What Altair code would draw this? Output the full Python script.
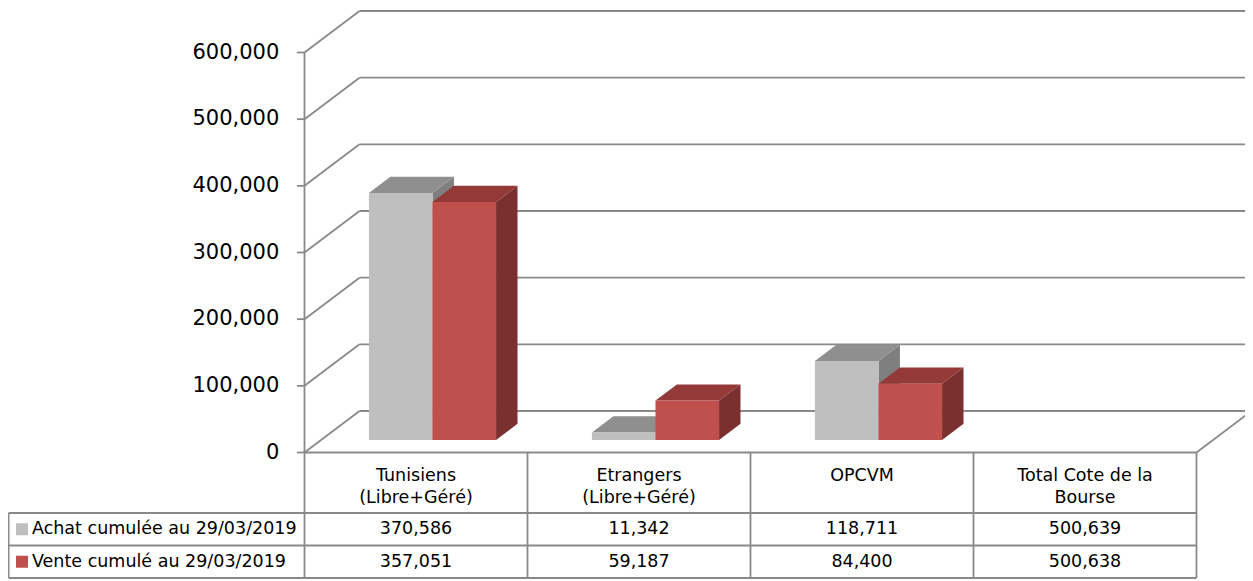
import altair as alt
import pandas as pd

# ---------------- data ----------------
CAT_LINES = [["Tunisiens", "(Libre+Géré)"], ["Etrangers", "(Libre+Géré)"], ["OPCVM"], ["Total Cote de la", "Bourse"]]
SERIES = ["Achat cumulée au 29/03/2019", "Vente cumulé au 29/03/2019"]
ACHAT = [370586, 11342, 118711, 500639]
VENTE = [357051, 59187, 84400, 500638]
PLOTTED = [True, True, True, False]          # the total column has no bars in the picture
Y_TICKS = [0, 100000, 200000, 300000, 400000, 500000, 600000]

# ---------------- style ----------------
FRONT = ["#bfbfbf", "#c0504d"]
TOP = ["#8f8f8f", "#933937"]
SIDE = ["#7f7f7f", "#7b2f2e"]
LINE = "#898989"
FONT = "DejaVu Sans"

# ---------------- geometry (scale units) ----------------
W, H = 1237, 571
X_MIN, X_MAX = -1.3296, 4.2175
Y_MIN, Y_MAX = -189750, 666750
DX = 0.2466      # depth of the 3D box, in category units
DY = 62250       # depth of the 3D box, in value units
F0 = 0.30        # depth of bar front face
FD = 0.39        # bar depth
BW = 0.285       # bar width
N = len(CAT_LINES)
TABLE_Y = [0, -90750, -139500, -188250]
HEAD_Y = [-35250, -68250]
ROW_Y = [(TABLE_Y[1] + TABLE_Y[2]) / 2, (TABLE_Y[2] + TABLE_Y[3]) / 2]
LEFT_X = -1.327
LEG_SW_X = -1.2668
LEG_TX_X = -1.222
TICK_LEN = 0.034
LABEL_X = -0.113

xs = alt.Scale(domain=[X_MIN, X_MAX], nice=False, zero=False)
ys = alt.Scale(domain=[Y_MIN, Y_MAX], nice=False, zero=False)

def X(f="x"):
    return alt.X(f"{f}:Q", scale=xs, axis=None)

def Y(f="y"):
    return alt.Y(f"{f}:Q", scale=ys, axis=None)

# ---------------- lines ----------------
rules = []
for v in Y_TICKS:
    rules.append(dict(x=DX, x2=X_MAX, y=v + DY, y2=v + DY))          # back wall
    rules.append(dict(x=0, x2=DX, y=v, y2=v + DY))                   # side wall
    rules.append(dict(x=-TICK_LEN, x2=0, y=v, y2=v))                 # tick
rules.append(dict(x=0, x2=0, y=0, y2=Y_TICKS[-1]))                   # axis
rules.append(dict(x=N, x2=N + DX, y=0, y2=DY))                       # floor right
rules.append(dict(x=0, x2=N, y=TABLE_Y[0], y2=TABLE_Y[0]))
for ty in TABLE_Y[1:]:
    rules.append(dict(x=LEFT_X, x2=N, y=ty, y2=ty))
for i in range(N + 1):
    rules.append(dict(x=i, x2=i, y=TABLE_Y[0], y2=TABLE_Y[-1]))
rules.append(dict(x=LEFT_X, x2=LEFT_X, y=TABLE_Y[1], y2=TABLE_Y[-1]))
rules_df = pd.DataFrame(rules)

rule_layer = alt.Chart(rules_df).mark_rule(color=LINE, strokeWidth=1.8).encode(
    x=X(), x2="x2:Q", y=Y(), y2="y2:Q")

# ---------------- bars ----------------
layers = [rule_layer]
d, dd = FD * DX, FD * DY
base = F0 * DY
for s, vals in enumerate([ACHAT, VENTE]):
    fronts, sides, tops = [], [], []
    for i, v in enumerate(vals):
        if not PLOTTED[i]:
            continue
        xc = i + 0.5 + F0 * DX
        x0 = xc - BW + s * BW
        x1 = x0 + BW
        top = base + v
        fronts.append(dict(x=x0, x2=x1, y=base, y2=top))
        sides.append(dict(id=i, x=x1, y=base, y2=top))
        sides.append(dict(id=i, x=x1 + d, y=base + dd, y2=top + dd))
        tops.append(dict(id=i, y=top, x=x0, x2=x1))
        tops.append(dict(id=i, y=top + dd, x=x0 + d, x2=x1 + d))
    layers.append(alt.Chart(pd.DataFrame(sides)).mark_area(color=SIDE[s], orient="vertical").encode(
        x=X(), y=Y(), y2="y2:Q", detail="id:N"))
    layers.append(alt.Chart(pd.DataFrame(tops)).mark_area(color=TOP[s], orient="horizontal").encode(
        y=Y(), x=X(), x2="x2:Q", detail="id:N"))
    layers.append(alt.Chart(pd.DataFrame(fronts)).mark_rect(color=FRONT[s]).encode(
        x=X(), x2="x2:Q", y=Y(), y2="y2:Q"))

# ---------------- texts ----------------
axis_df = pd.DataFrame(dict(x=[LABEL_X] * len(Y_TICKS), y=Y_TICKS, t=[f"{v:,}" for v in Y_TICKS]))
layers.append(alt.Chart(axis_df).mark_text(align="right", baseline="middle", fontSize=21, font=FONT, color="#000").encode(
    x=X(), y=Y(), text="t:N"))

head = []
for i, lines in enumerate(CAT_LINES):
    for k, ln in enumerate(lines):
        head.append(dict(x=i + 0.5, y=HEAD_Y[k], t=ln))
cells = []
for r, vals in enumerate([ACHAT, VENTE]):
    for i, v in enumerate(vals):
        cells.append(dict(x=i + 0.5, y=ROW_Y[r], t=f"{v:,}"))
layers.append(alt.Chart(pd.DataFrame(head + cells)).mark_text(align="center", baseline="middle", fontSize=17.5, font=FONT, color="#000").encode(
    x=X(), y=Y(), text="t:N"))

leg_df = pd.DataFrame(dict(x=[LEG_TX_X] * 2, sx=[LEG_SW_X] * 2, y=ROW_Y, t=SERIES, c=SERIES))
layers.append(alt.Chart(leg_df).mark_text(align="left", baseline="middle", fontSize=17.5, font=FONT, color="#000").encode(
    x=X(), y=Y(), text="t:N"))
layers.append(alt.Chart(leg_df).mark_square(size=144, opacity=1, filled=True).encode(
    x=X("sx"), y=Y(),
    color=alt.Color("c:N", scale=alt.Scale(domain=SERIES, range=FRONT), legend=None)))

chart = alt.layer(*layers).properties(
    width=W, height=H, padding=0,
    autosize=alt.AutoSizeParams(type="none"),
).configure_view(stroke=None)

chart.save("out.html", embed_options={"renderer": "svg", "actions": False})
